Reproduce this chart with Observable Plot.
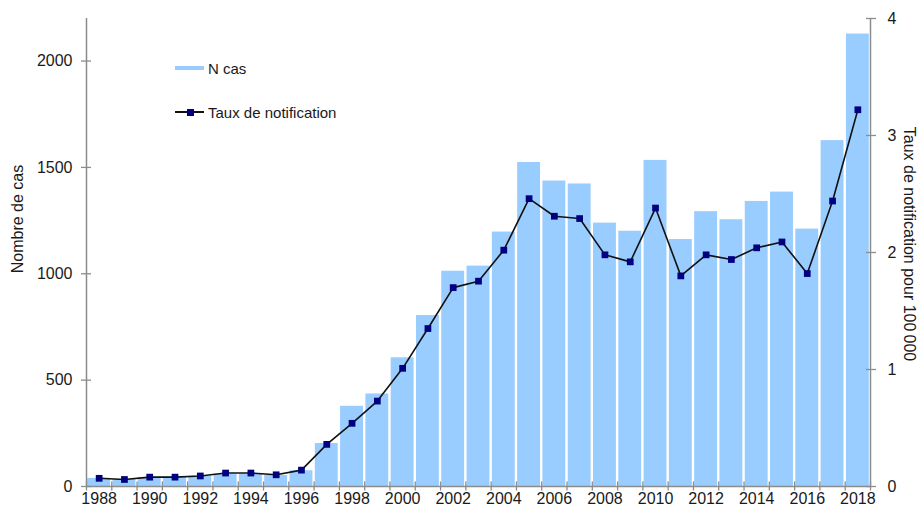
<!DOCTYPE html>
<html><head><meta charset="utf-8">
<script src="https://cdn.jsdelivr.net/npm/d3@7"></script>
<script src="https://cdn.jsdelivr.net/npm/@observablehq/plot@0.6"></script>
<style>
body{margin:0;background:#fff;font-family:"Liberation Sans",Arial,sans-serif;}
#wrap{position:relative;width:920px;height:515px;overflow:hidden;}
.t{position:absolute;white-space:nowrap;color:#1a1a1a;}
.lab{font-size:16px;transform:translate(-50%,-50%) rotate(-90deg);}
.labr{font-size:16px;transform:translate(-50%,-50%) rotate(90deg);}
.lg{font-size:15px;transform:translateY(-50%);}
.sw{position:absolute;}
</style></head><body><div id="wrap"></div>
<script>
const years=[1988,1989,1990,1991,1992,1993,1994,1995,1996,1997,1998,1999,2000,2001,2002,2003,2004,2005,2006,2007,2008,2009,2010,2011,2012,2013,2014,2015,2016,2017,2018];
const cases=[38,33,42,44,48,58,58,52,74,202,377,435,605,804,1012,1036,1196,1523,1436,1422,1238,1200,1533,1161,1292,1254,1340,1384,1210,1626,2127];
const rates=[0.07,0.06,0.08,0.08,0.09,0.115,0.115,0.10,0.14,0.36,0.54,0.73,1.01,1.35,1.70,1.755,2.02,2.46,2.31,2.29,1.98,1.92,2.38,1.80,1.98,1.94,2.04,2.09,1.82,2.44,3.22];
const leftTicks=[0,500,1000,1500,2000];
const rightTicks=[0,1,2,3,4];
const labelYears=[1988,1990,1992,1994,1996,1998,2000,2002,2004,2006,2008,2010,2012,2014,2016,2018];
const seriesNames=["N cas","Taux de notification"];
const yLabel="Nombre de cas";
const y2Label="Taux de notification pour 100\u202f000";

const yMax=2200, rateMax=4, k=yMax/rateMax;
const data=years.map((year,i)=>({year,n:cases[i],rate:rates[i]}));
const bounds=[...years.map(y=>y-0.5),years[years.length-1]+0.5];
const axisColor="#8c8c8c";
const barColor="#99CCFF";

const chart=Plot.plot({
  width:920,height:515,marginLeft:86,marginRight:50,marginTop:18,marginBottom:29,
  style:{fontFamily:"Liberation Sans, Arial, sans-serif",fontSize:"16px",color:"#1a1a1a",background:"#fff"},
  x:{domain:[bounds[0],bounds[bounds.length-1]]},
  y:{domain:[0,yMax]},
  marks:[
    Plot.rectY(data,{x1:d=>d.year-0.5,x2:d=>d.year+0.5,y:"n",fill:barColor,insetLeft:1.2,insetRight:1.2}),
    Plot.line(data,{x:"year",y:d=>d.rate*k,stroke:"#111",strokeWidth:1.6}),
    Plot.dot(data,{x:"year",y:d=>d.rate*k,symbol:"square",r:3.8,fill:"#000080",stroke:"none"}),
    Plot.ruleX([bounds[0]],{stroke:axisColor,strokeWidth:1.5}),
    Plot.ruleX([bounds[bounds.length-1]],{stroke:axisColor,strokeWidth:1.5}),
    Plot.ruleY([0],{stroke:axisColor,strokeWidth:1.5}),
    // x ticks at category boundaries
    Plot.axisX({ticks:bounds,anchor:"bottom",tickSize:9,dy:-4.5,tickFormat:()=>"",label:null,stroke:axisColor,strokeWidth:1.3}),
    Plot.axisX({ticks:labelYears,anchor:"bottom",tickSize:0,tickPadding:6,tickFormat:d=>String(d),label:null}),
    // left axis
    Plot.axisY({ticks:leftTicks,anchor:"left",tickSize:10,dx:5,tickFormat:()=>"",label:null,stroke:axisColor,strokeWidth:1.3}),
    Plot.axisY({ticks:leftTicks,anchor:"left",tickSize:0,tickPadding:14,tickFormat:d=>String(d),label:null}),
    // right axis (rate)
    Plot.axisY({ticks:rightTicks.map(v=>v*k),anchor:"right",tickSize:10,dx:-5,tickFormat:()=>"",label:null,stroke:axisColor,strokeWidth:1.3}),
    Plot.axisY({ticks:rightTicks.map(v=>v*k),anchor:"right",tickSize:0,tickPadding:17,tickFormat:d=>String(d/k),label:null})
  ]
});
const wrap=document.getElementById("wrap");
wrap.appendChild(chart);
function add(html){wrap.insertAdjacentHTML("beforeend",html);}
add(`<div class="t lab" style="left:18px;top:219px">${yLabel}</div>`);
add(`<div class="t labr" style="left:909px;top:244px">${y2Label}</div>`);
add(`<div class="sw" style="left:175px;top:66px;width:29px;height:4px;background:${barColor}"></div>`);
add(`<div class="t lg" style="left:208px;top:68px">${seriesNames[0]}</div>`);
add(`<div class="sw" style="left:175px;top:111px;width:29px;height:1.6px;background:#111"></div>`);
add(`<div class="sw" style="left:186.5px;top:108.5px;width:7px;height:7px;background:#000080"></div>`);
add(`<div class="t lg" style="left:208px;top:112px">${seriesNames[1]}</div>`);
</script></body></html>
